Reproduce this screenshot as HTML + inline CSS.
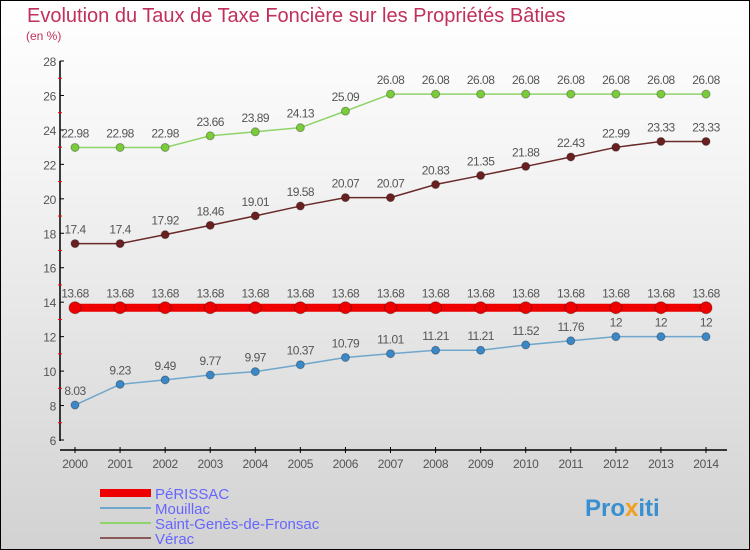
<!DOCTYPE html>
<html><head><meta charset="utf-8"><style>
body{margin:0}
#c{width:748px;height:548px;border:1px solid #000;background:linear-gradient(#fff,#f4f4f4 30%,#d2d2d2);position:relative;overflow:hidden;font-family:"Liberation Sans",sans-serif}
text{font-family:"Liberation Sans",sans-serif}
</style></head><body>
<div id="c">
<svg id="s" width="750" height="550" style="position:absolute;left:-1px;top:-1px">
<text x="27" y="22" font-size="20" fill="#c0305a">Evolution du Taux de Taxe Foncière sur les Propriétés Bâties</text>
<text x="26" y="40" font-size="12" fill="#c0305a">(en %)</text>
<g id="axes"></g><g id="series"></g>
<g>
<rect x="100" y="489" width="51" height="8" fill="#ee0000"/>
<line x1="100" x2="151" y1="508" y2="508" stroke="#6fa7cc" stroke-width="2"/>
<line x1="100" x2="151" y1="523" y2="523" stroke="#8fd46a" stroke-width="2"/>
<line x1="100" x2="151" y1="538" y2="538" stroke="#8a5a5a" stroke-width="2"/>
<text x="155" y="499" font-size="15" fill="#6666ff">PéRISSAC</text>
<text x="155" y="514" font-size="15" fill="#6666ff">Mouillac</text>
<text x="155" y="529" font-size="15" fill="#6666ff">Saint-Genès-de-Fronsac</text>
<text x="155" y="544" font-size="15" fill="#6666ff">Vérac</text>
</g>
<text x="585" y="516" font-size="24" font-weight="bold" fill="#3a8fd0">Pro<tspan fill="#f0a020">x</tspan>iti</text>
</svg></div>
<script>
const years=[2000,2001,2002,2003,2004,2005,2006,2007,2008,2009,2010,2011,2012,2013,2014];
const perissac=[13.68,13.68,13.68,13.68,13.68,13.68,13.68,13.68,13.68,13.68,13.68,13.68,13.68,13.68,13.68];
const mouillac=[8.03,9.23,9.49,9.77,9.97,10.37,10.79,11.01,11.21,11.21,11.52,11.76,12,12,12];
const saintGenes=[22.98,22.98,22.98,23.66,23.89,24.13,25.09,26.08,26.08,26.08,26.08,26.08,26.08,26.08,26.08];
const verac=[17.4,17.4,17.92,18.46,19.01,19.58,20.07,20.07,20.83,21.35,21.88,22.43,22.99,23.33,23.33];
const yTicks=[6,8,10,12,14,16,18,20,22,24,26,28];
const NS="http://www.w3.org/2000/svg";
const xs=i=>75+i*(706-75)/(years.length-1);
const ys=v=>440-(v-6)*(440-61)/22;
function mk(t,a,p){const e=document.createElementNS(NS,t);for(const k in a)e.setAttribute(k,a[k]);p.appendChild(e);return e;}
const ax=document.getElementById('axes');
let e=mk('line',{x1:60,x2:60,y1:61,y2:441,stroke:'#000','stroke-width':1.5},ax);


e=mk('line',{x1:60,x2:727,y1:450,y2:450,stroke:'#000','stroke-width':1.5},ax);


yTicks.forEach(v=>{
 mk('line',{x1:60,x2:64,y1:ys(v),y2:ys(v),stroke:'#000'},ax);
 if(v<28)mk('line',{x1:58,x2:62,y1:ys(v+1),y2:ys(v+1),stroke:'#f00'},ax);
 const t=mk('text',{x:56,y:ys(v)+5,'text-anchor':'end','font-size':12,fill:'#555','letter-spacing':'-0.3'},ax);
 t.textContent=v;
 
 
});
years.forEach((y,i)=>{
 mk('line',{x1:xs(i),x2:xs(i),y1:447,y2:453,stroke:'#000'},ax);
 const t=mk('text',{x:xs(i),y:468,'text-anchor':'middle','font-size':12,fill:'#555','letter-spacing':'-0.3'},ax);
 t.textContent=y;
 
 
});
const sg=document.getElementById('series');
function draw(vals,color,dot,w,r,name){
 const g=mk('g',{},sg);
 
 
 const l=mk('polyline',{points:vals.map((v,i)=>xs(i)+','+ys(v)).join(' '),fill:'none',stroke:color,'stroke-width':w},g);
 
 
 vals.forEach((v,i)=>{
  const c=mk('circle',{cx:xs(i),cy:ys(v),r:r,fill:dot,stroke:'rgba(0,0,0,0.3)'},g);
  
  
  const t=mk('text',{x:xs(i),y:ys(v)-10,'text-anchor':'middle','font-size':12,fill:'#555','letter-spacing':'-0.5'},g);
  t.textContent=String(v);
  
  
 });
}
draw(saintGenes,'#8fd46a','#7acc3a',1.5,4,'saint-genes');
draw(verac,'#6a2a2a','#6a2020',1.5,4,'verac');
draw(perissac,'#ee0000','#ee0000',8,6,'perissac');
draw(mouillac,'#6fa7cc','#3a88c8',1.5,4,'mouillac');
</script>
</body></html>
